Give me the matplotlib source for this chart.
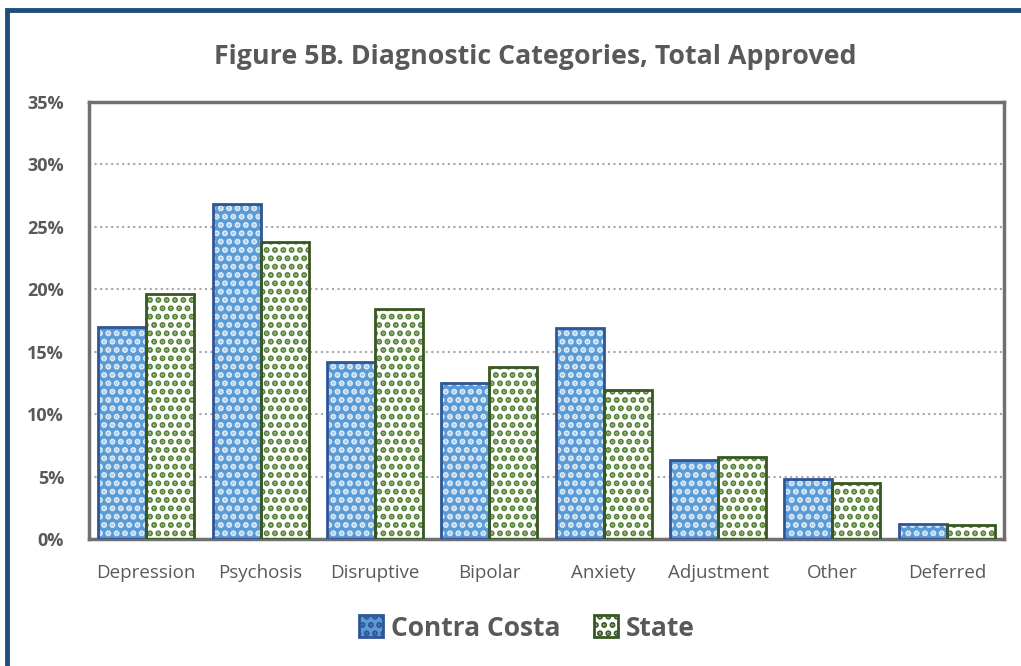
import matplotlib.pyplot as plt
import matplotlib.patches as mpatches
import numpy as np

categories = ['Depression', 'Psychosis', 'Disruptive', 'Bipolar', 'Anxiety',
              'Adjustment', 'Other', 'Deferred']
contra_costa = [17.0, 26.8, 14.2, 12.5, 16.9, 6.3, 4.8, 1.2]
state = [19.6, 23.8, 18.4, 13.8, 11.9, 6.6, 4.5, 1.1]
y_ticks = [0, 5, 10, 15, 20, 25, 30, 35]

plt.rcParams['font.family'] = ['Open Sans', 'DejaVu Sans']
plt.rcParams['hatch.linewidth'] = 3.0

TEXT = '#595959'
BLUE = '#5B9BD5'
BLUE_EDGE = '#2F5597'
GREEN = '#548235'
GREEN_EDGE = '#385723'

fig = plt.figure(figsize=[10.21, 6.66], dpi=100)
ax = fig.add_axes([89 / 1021, 1 - 539 / 666, 915 / 1021, 437 / 666])

x = np.arange(len(categories))
w = 0.42

# Contra Costa: blue with white dashes
ax.bar(x - w / 2, contra_costa, w, color=BLUE, linewidth=0, zorder=2)
ax.bar(x - w / 2, contra_costa, w, facecolor='none', edgecolor='#DDEBF7',
       hatch='..', linewidth=0, zorder=3)
ax.bar(x - w / 2, contra_costa, w, facecolor='none', edgecolor=BLUE_EDGE,
       linewidth=2, zorder=4)

# State: white with green dots
ax.bar(x + w / 2, state, w, color='white', linewidth=0, zorder=2)
ax.bar(x + w / 2, state, w, facecolor='none', edgecolor=GREEN,
       hatch='..', linewidth=0, zorder=3)
ax.bar(x + w / 2, state, w, facecolor='none', edgecolor=GREEN_EDGE,
       linewidth=2, zorder=4)

ax.set_xlim(-0.5, len(categories) - 0.5)
ax.set_ylim(0, 35)
ax.set_yticks(y_ticks)
ax.set_yticklabels([f'{t}%' for t in y_ticks], fontsize=13,
                   fontweight='bold', color=TEXT)
ax.set_xticks(x)
ax.set_xticklabels(categories, fontsize=13.5, color=TEXT)
ax.tick_params(length=0)
ax.tick_params(axis='x', pad=18)
ax.tick_params(axis='y', pad=18)

ax.yaxis.grid(True, linestyle=':', color='#A6A6A6', linewidth=1.5, zorder=0)
ax.set_axisbelow(True)
for s in ax.spines.values():
    s.set_color('#707070')
    s.set_linewidth(2.5)

fig.text(535 / 1021, 1 - 57 / 666, 'Figure 5B. Diagnostic Categories, Total Approved',
         ha='center', va='center', fontsize=19.3, fontweight='bold', color=TEXT)

h1 = mpatches.Patch(facecolor=BLUE, edgecolor=BLUE_EDGE, hatch='..', linewidth=2)
h2 = mpatches.Patch(facecolor='white', edgecolor=GREEN_EDGE, hatch='..', linewidth=2)
leg = fig.legend([h1, h2], ['Contra Costa', 'State'], loc='center',
                 bbox_to_anchor=(527 / 1021, 1 - 628 / 666), ncol=2, frameon=False,
                 prop={'size': 19, 'weight': 'bold'}, handlelength=0.9,
                 handleheight=0.9, handletextpad=0.3, columnspacing=1.3)
for t in leg.get_texts():
    t.set_color(TEXT)

# outer border (left and top)
fig.patches.append(mpatches.Rectangle((7 / 1021, -0.1), 1.2, 1.1 - 10 / 666,
                                      transform=fig.transFigure, fill=False,
                                      edgecolor='#1F4E79', linewidth=3.5))

fig.savefig('out.png', dpi=100)
